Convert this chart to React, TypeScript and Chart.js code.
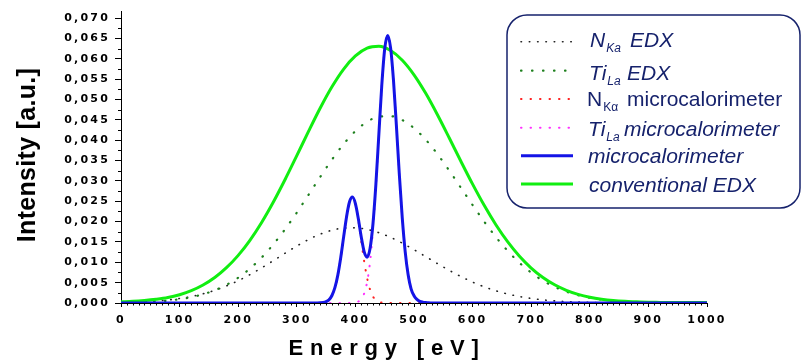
import React, { useEffect, useRef } from 'react';
import { Chart, registerables } from 'chart.js';

Chart.register(...registerables);

// ---------- data ----------
const edxEnergy = [
  0, 20, 40, 60, 80, 100, 120, 140, 160, 180, 200, 220, 240, 260, 280, 300, 320, 340, 360, 380,
  400, 420, 440, 460, 480, 500, 520, 540, 560, 580, 600, 620, 640, 660, 680, 700, 720, 740, 760, 780,
  800, 820, 840, 860, 880, 900, 920, 940, 960, 980, 1000,
];
const nKaEdx = [
  0.00012, 0.00019, 0.00031, 0.00048, 0.00074, 0.00111, 0.0016, 0.00227, 0.00312, 0.00419,
  0.00547, 0.00696, 0.00862, 0.0104, 0.01222, 0.01399, 0.01559, 0.01692, 0.01788, 0.01841,
  0.01846, 0.01808, 0.01728, 0.01613, 0.01471, 0.0131, 0.0114, 0.00968, 0.00803, 0.0065,
  0.00514, 0.00397, 0.003, 0.00221, 0.00159, 0.00112, 0.00077, 0.00051, 0.00034, 0.00022,
  0.00013, 0.00008, 0.00005, 0.00003, 0.00002, 0.00001, 0.00001, 0, 0, 0, 0,
];
const tiLaEdx = [
  0.00007, 0.00013, 0.00022, 0.00036, 0.00059, 0.00093, 0.00143, 0.00215, 0.00314, 0.00448,
  0.00623, 0.00845, 0.01117, 0.01441, 0.01812, 0.02222, 0.02657, 0.03099, 0.03524, 0.03907,
  0.04224, 0.04454, 0.04579, 0.04591, 0.04495, 0.04297, 0.04012, 0.03658, 0.03258, 0.02833,
  0.02406, 0.01996, 0.01616, 0.01279, 0.00988, 0.00746, 0.00549, 0.00396, 0.00278, 0.00191,
  0.00128, 0.00084, 0.00054, 0.00033, 0.0002, 0.00012, 0.00007, 0.00004, 0.00002, 0.00001, 0.00001,
];
const conventionalEdx = [
  0.0003, 0.0004, 0.0006, 0.0009, 0.00133, 0.00204, 0.00303, 0.00442, 0.00626, 0.00867,
  0.0117, 0.01541, 0.01979, 0.02481, 0.03034, 0.03621, 0.04216, 0.04791, 0.05312, 0.05748,
  0.0607, 0.06262, 0.06307, 0.06204, 0.05966, 0.05607, 0.05152, 0.04626, 0.04061, 0.03483,
  0.0292, 0.02393, 0.01916, 0.015, 0.01147, 0.00858, 0.00626, 0.00447, 0.00312, 0.00213,
  0.00141, 0.00092, 0.00059, 0.0004, 0.0003, 0.0002, 0.00015, 0.0001, 0.0001, 0.0001, 0.0001,
];

const calEnergy = [
  0, 300, 330, 335, 340, 345, 350, 355, 360, 365, 370, 375, 380, 385, 390, 395, 400, 405, 410, 415,
  420, 425, 430, 435, 440, 445, 450, 455, 460, 465, 470, 475, 480, 485, 490, 495, 500, 505, 510, 515,
  520, 525, 530, 535, 540, 560, 1000,
];
const nKaCal = [
  0, 0, 0, 0, 0.00004, 0.00011, 0.00032, 0.00081, 0.00185, 0.00376, 0.00685, 0.01117, 0.0163, 0.02128,
  0.02486, 0.026, 0.02431, 0.02035, 0.01524, 0.01022, 0.00613, 0.00329, 0.00158, 0.00068, 0.00026,
  0.00009, 0.00003, 0, 0, 0, 0, 0, 0, 0, 0, 0, 0, 0, 0, 0, 0, 0, 0, 0, 0, 0, 0,
];
const tiLaCal = [
  0, 0, 0, 0, 0, 0, 0, 0, 0, 0, 0, 0, 0, 0, 0.00001, 0.00004, 0.00012, 0.00036, 0.00097, 0.00235,
  0.00514, 0.0101, 0.01789, 0.02858, 0.04113, 0.05336, 0.06237, 0.0657, 0.06275, 0.05468, 0.04346,
  0.03152, 0.02085, 0.01258, 0.00692, 0.00348, 0.0018, 0.0009, 0.0004, 0.0002, 0.0001, 0.00004,
  0.00002, 0, 0, 0, 0,
];
const microcalorimeter = [
  0, 0, 0, 0.00001, 0.00004, 0.00011, 0.00032, 0.00081, 0.00185, 0.00376, 0.00685, 0.01117, 0.0163,
  0.02128, 0.02487, 0.02604, 0.02443, 0.02071, 0.01621, 0.01257, 0.01127, 0.01339, 0.01947, 0.02926,
  0.04139, 0.05345, 0.0624, 0.0657, 0.06275, 0.05468, 0.04346, 0.03152, 0.02085, 0.01258, 0.00692,
  0.00348, 0.0018, 0.0009, 0.0004, 0.0002, 0.0001, 0.00004, 0.00002, 0, 0, 0, 0,
];

const xTitle = 'Energy [eV]';
const yTitle = 'Intensity [a.u.]';

// ---------- styles ----------
const FONT = '"Liberation Sans", Arial, sans-serif';
const TICK_FONT = '"DejaVu Sans", "Liberation Sans", sans-serif';
const NAVY = '#16226c';
const C_BLACK = '#222222';
const C_DGREEN = '#1e801e';
const C_RED = '#ff2020';
const C_MAGENTA = '#ff30ff';
const C_BLUE = '#1414e6';
const C_GREEN = '#11ee11';

const DOT_BLACK = { w: 1.6, dash: [0.5, 7.8] };
const DOT_DGREEN = { w: 2.2, dash: [0.5, 10.5] };
const DOT_RED = { w: 2, dash: [0.5, 9] };
const DOT_MAG = { w: 2, dash: [0.5, 9] };

const pts = (xs: number[], ys: number[]) => xs.map((x, i) => ({ x, y: ys[i] }));

function setSpacing(ctx: any, v: string) {
  if ('letterSpacing' in ctx) ctx.letterSpacing = v;
}

function roundRectPath(ctx: CanvasRenderingContext2D, x: number, y: number, w: number, h: number, r: number) {
  ctx.beginPath();
  ctx.moveTo(x + r, y);
  ctx.lineTo(x + w - r, y);
  ctx.arcTo(x + w, y, x + w, y + r, r);
  ctx.lineTo(x + w, y + h - r);
  ctx.arcTo(x + w, y + h, x + w - r, y + h, r);
  ctx.lineTo(x + r, y + h);
  ctx.arcTo(x, y + h, x, y + h - r, r);
  ctx.lineTo(x, y + r);
  ctx.arcTo(x, y, x + r, y, r);
  ctx.closePath();
}

type Part = { t: string; italic: boolean; sub?: boolean; x?: number };

function drawParts(ctx: CanvasRenderingContext2D, parts: Part[], x0: number, base: number) {
  let x = x0;
  for (const p of parts) {
    if (p.x !== undefined) x = p.x;
    const size = p.sub ? 12 : 21;
    ctx.font = `${p.italic ? 'italic ' : ''}${size}px ${FONT}`;
    ctx.fillText(p.t, x, p.sub ? base + 5 : base);
    x += ctx.measureText(p.t).width + (p.sub ? 0 : 1);
  }
}

const decorPlugin = {
  id: 'decor',
  beforeDraw(chart: any) {
    setSpacing(chart.ctx, '2.2px');
  },
  beforeDatasetsDraw(chart: any) {
    const ctx: CanvasRenderingContext2D = chart.ctx;
    setSpacing(ctx, '0px');
    const xs = chart.scales.x;
    const ys = chart.scales.y;
    ctx.save();
    ctx.strokeStyle = '#000';
    ctx.lineWidth = 1;
    ctx.beginPath();
    for (let v = 10; v < 1000; v += 10) {
      if (v % 100 === 0) continue;
      const px = Math.round(xs.getPixelForValue(v)) + 0.5;
      ctx.moveTo(px, ys.bottom);
      ctx.lineTo(px, ys.bottom + 2.5);
    }
    for (let i = 1; i < 29; i += 2) {
      const py = Math.round(ys.getPixelForValue(i * 0.0025)) + 0.5;
      ctx.moveTo(xs.left, py);
      ctx.lineTo(xs.left - 3, py);
    }
    ctx.stroke();
    ctx.restore();
  },
  afterDraw(chart: any) {
    const ctx: CanvasRenderingContext2D = chart.ctx;
    ctx.save();
    // axis titles
    ctx.fillStyle = '#000';
    ctx.font = `bold 22px ${FONT}`;
    setSpacing(ctx, '6.8px');
    ctx.textAlign = 'left';
    ctx.textBaseline = 'alphabetic';
    ctx.fillText(xTitle, 288.5, 354.5);

    ctx.save();
    ctx.translate(35, 155);
    ctx.rotate(-Math.PI / 2);
    ctx.font = `bold 25px ${FONT}`;
    setSpacing(ctx, '0.3px');
    ctx.textAlign = 'center';
    ctx.fillText(yTitle, 0, 0);
    ctx.restore();

    // legend box
    setSpacing(ctx, '0px');
    roundRectPath(ctx, 507, 15, 293, 193, 20);
    ctx.fillStyle = '#fff';
    ctx.fill();
    ctx.strokeStyle = NAVY;
    ctx.lineWidth = 1.5;
    ctx.stroke();

    const sample = (y: number, color: string, w: number, dash: number[]) => {
      ctx.save();
      ctx.strokeStyle = color;
      ctx.lineWidth = w;
      ctx.lineCap = dash.length ? 'round' : 'butt';
      ctx.setLineDash(dash);
      ctx.beginPath();
      ctx.moveTo(521, y);
      ctx.lineTo(573, y);
      ctx.stroke();
      ctx.restore();
    };
    sample(41.7, C_BLACK, DOT_BLACK.w, DOT_BLACK.dash);
    sample(70.7, C_DGREEN, DOT_DGREEN.w, DOT_DGREEN.dash);
    sample(99, C_RED, DOT_RED.w, DOT_RED.dash);
    sample(127.7, C_MAGENTA, DOT_MAG.w, DOT_MAG.dash);
    sample(155.7, C_BLUE, 3, []);
    sample(184, C_GREEN, 3, []);

    ctx.fillStyle = NAVY;
    ctx.textAlign = 'left';
    ctx.textBaseline = 'alphabetic';
    drawParts(ctx, [
      { t: 'N', italic: true },
      { t: 'Ka', italic: true, sub: true },
      { t: 'EDX', italic: true, x: 630 },
    ], 590, 47.3);
    drawParts(ctx, [
      { t: 'Ti', italic: true },
      { t: 'La', italic: true, sub: true },
      { t: 'EDX', italic: true, x: 627 },
    ], 589, 80);
    drawParts(ctx, [
      { t: 'N', italic: false },
      { t: 'K\u03b1', italic: false, sub: true },
      { t: 'microcalorimeter', italic: false, x: 627 },
    ], 587, 106);
    drawParts(ctx, [
      { t: 'Ti', italic: true },
      { t: 'La', italic: true, sub: true },
      { t: 'microcalorimeter', italic: true, x: 624 },
    ], 588, 135.5);
    drawParts(ctx, [{ t: 'microcalorimeter', italic: true }], 588, 163.3);
    drawParts(ctx, [{ t: 'conventional EDX', italic: true }], 589, 191.7);
    ctx.restore();
  },
};

export default function App() {
  const ref = useRef<HTMLCanvasElement>(null);
  useEffect(() => {
    document.body.style.margin = '0';
    const canvas = ref.current!;
    const line = (data: any[], color: string, width: number, dash: number[] | null) => ({
      data,
      borderColor: color,
      backgroundColor: color,
      borderWidth: width,
      borderDash: dash || [],
      borderCapStyle: dash ? 'round' : 'butt',
      pointRadius: 0,
      fill: false,
      cubicInterpolationMode: 'monotone',
    });
    const chart = new Chart(canvas, {
      type: 'line',
      data: {
        datasets: [
          line(pts(calEnergy, microcalorimeter), C_BLUE, 3, null),
          line(pts(edxEnergy, conventionalEdx), C_GREEN, 3, null),
          line(pts(calEnergy, nKaCal), C_RED, DOT_RED.w, DOT_RED.dash),
          line(pts(calEnergy, tiLaCal), C_MAGENTA, DOT_MAG.w, DOT_MAG.dash),
          line(pts(edxEnergy, tiLaEdx), C_DGREEN, DOT_DGREEN.w, DOT_DGREEN.dash),
          line(pts(edxEnergy, nKaEdx), C_BLACK, DOT_BLACK.w, DOT_BLACK.dash),
        ] as any,
      },
      options: {
        responsive: false,
        animation: false,
        events: [],
        layout: { padding: { left: 0, top: 10, right: 96, bottom: 0 } },
        plugins: { legend: { display: false }, tooltip: { enabled: false }, title: { display: false } },
        scales: {
          x: {
            type: 'linear',
            min: 0,
            max: 1000,
            afterFit: (s: any) => { s.height = 58; },
            border: { display: true, color: '#000', width: 1 },
            grid: { display: true, drawOnChartArea: false, drawTicks: true, tickLength: 4, color: '#000' },
            ticks: {
              stepSize: 100,
              autoSkip: false,
              maxRotation: 0,
              padding: 7,
              color: '#000',
              font: { family: TICK_FONT, size: 11, weight: 'bold' },
              callback: (v: any) => String(v),
            },
          },
          y: {
            type: 'linear',
            min: 0,
            max: 0.0716,
            afterFit: (s: any) => { s.width = 121; },
            border: { display: true, color: '#000', width: 1 },
            grid: { display: true, drawOnChartArea: false, drawTicks: true, tickLength: 6, color: '#000' },
            ticks: {
              stepSize: 0.005,
              includeBounds: false,
              padding: 5,
              color: '#000',
              font: { family: TICK_FONT, size: 11, weight: 'bold' },
              callback: (v: any) => Number(v).toFixed(3).replace('.', ','),
            },
          },
        },
      } as any,
      plugins: [decorPlugin],
    });
    return () => chart.destroy();
  }, []);
  return (
    <div style={{ position: 'absolute', left: 0, top: 0, width: 803, height: 361, background: '#fff' }}>
      <canvas ref={ref} width={803} height={361} style={{ display: 'block', width: 803, height: 361 }} />
    </div>
  );
}
